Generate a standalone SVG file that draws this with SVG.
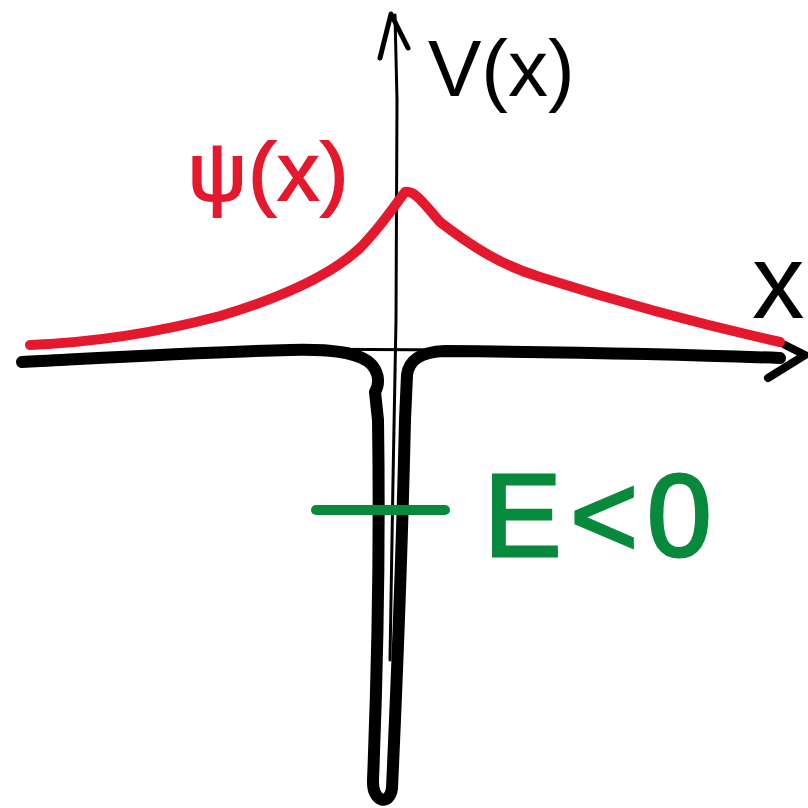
<svg xmlns="http://www.w3.org/2000/svg" width="808" height="808" viewBox="0 0 808 808">
<style>
.s{fill:none;stroke-linecap:round;stroke-linejoin:round}
.k{stroke:#000}
.r{stroke:#e5192d}
.g{stroke:#078a3b}
.t{font-family:"Liberation Sans","DejaVu Sans",sans-serif}
</style>
<rect width="808" height="808" fill="#fff"/>
<g id="connectors">
<g id="axes">
<path class="s k" stroke-width="3" d="M390,660 L393,480 L396,320 L397,100 L395,15"/>
<path class="s k" stroke-width="5" d="M380,58 L391,14 L408,48"/>
<path class="s k" stroke-width="3" d="M285,349 L455,350"/>
</g>
</g>
<g id="potential">
<path class="s k" stroke-width="12" d="M22,362 C100,358 200,352 290,350 C330,349 360,352 372,365 C380,375 379,385 375,392 L378,420 C380,550 377,680 373,780 C372,803 390,806 392,788 C396,700 402,550 405,420 L407,375 C409,360 420,352 445,351 C550,352 700,355 780,358"/>
<path class="s k" stroke-width="8" d="M785,345 L805,355 L768,378"/>
</g>
<g id="wavefunction">
<path class="s r" stroke-width="10" d="M30,345 C100,342 160,332 220,316 C280,298 330,276 360,248 C380,228 395,205 405,192 C415,190 425,205 440,222 C470,245 500,265 540,277 C600,296 690,322 780,342"/>
</g>
<g id="energy">
<path class="s g" stroke-width="10" d="M316,510 L445,510"/>
</g>
<g id="label-V">
<text class="t" x="428" y="96" font-size="80" fill="#000">V(x)</text>
</g>
<g id="label-psi">
<text class="t" x="188" y="200" font-size="82" letter-spacing="2" fill="#e5192d" stroke="#e5192d" stroke-width="2">ψ(x)</text>
</g>
<g id="label-x">
<text class="t" x="752" y="318" font-size="105" fill="#000">x</text>
</g>
<g id="label-E">
<text class="t" x="484" y="556" font-size="116" letter-spacing="9" fill="#078a3b" stroke="#078a3b" stroke-width="3">E&lt;0</text>
</g>
</svg>
